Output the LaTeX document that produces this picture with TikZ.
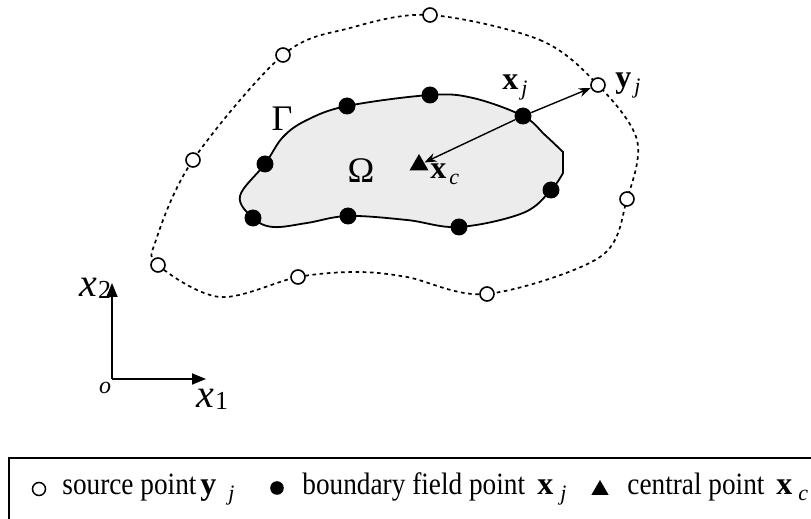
\documentclass[tikz,border=0pt]{standalone}
\usepackage{graphicx}
\usepackage{fontspec}
\setmainfont{Liberation Serif}
\usetikzlibrary{arrows.meta, shapes.geometric}

% bold vector with italic subscript
\newcommand{\vecsub}[3][1.5pt]{{\fontsize{16}{16}\selectfont\bfseries #2}\kern#1\raisebox{-3pt}{\fontsize{11}{11}\selectfont\itshape #3}}
% condensed legend text
\newcommand{\legstr}[1]{\scalebox{0.88}[1]{#1}}

\begin{document}
\begin{tikzpicture}[
    x=0.5pt, y=-0.5pt,
    >={Stealth[length=6pt, width=4.5pt]},
    source/.style={circle, draw, line width=0.8pt, fill=white, inner sep=0, minimum size=7pt},
    field/.style={circle, fill=black, inner sep=0, minimum size=8.5pt},
    central/.style={regular polygon, regular polygon sides=3, fill=black, inner sep=0, minimum size=11pt},
    contour/.style={dash pattern=on 1.8pt off 1.8pt, line width=0.85pt},
    boundary/.style={line width=0.9pt, draw=black, fill=gray!15},
    vec/.style={->, line width=0.7pt},
    axis/.style={-{Triangle[length=7pt, width=5.5pt]}, line width=0.9pt},
    legtext/.style={anchor=base west, inner sep=0, font=\fontsize{15.5}{15.5}\selectfont},
]
    \useasboundingbox (0,0) rectangle (811,519);

    % Source points (on the fictitious contour)
    \coordinate (s1) at (430,15);
    \coordinate (s2) at (598,85);
    \coordinate (s3) at (627,199);
    \coordinate (s4) at (487,294);
    \coordinate (s5) at (298,277);
    \coordinate (s6) at (158,265);
    \coordinate (s7) at (193,160);
    \coordinate (s8) at (283,55);

    % Boundary field points
    \coordinate (b1) at (265,164);
    \coordinate (b2) at (347,106);
    \coordinate (b3) at (430,95);
    \coordinate (b4) at (523,116);
    \coordinate (b5) at (551,190);
    \coordinate (b6) at (459,227);
    \coordinate (b7) at (348,216);
    \coordinate (b8) at (253,218);

    % Domain Omega with boundary Gamma
    \draw[boundary] plot[smooth, tension=0.6] coordinates {(563,173) (b5) (523,213) (b6) (407,220) (b7) (307,223) (273,227) (b8) (240,196) (b1) (283,137) (307,120) (b2) (b3) (473,98) (b4) (545,135) (563,152)} -- cycle;

    % Fictitious contour
    \draw[contour] plot[smooth cycle, tension=0.55] coordinates {(s1) (540,40) (s2) (637,140) (s3) (600,257) (s4) (407,277) (357,272) (s5) (220,297) (s6) (156,240) (s7) (s8) (350,28)};

    % Points
    \foreach \i in {1,...,8} {
        \node[source] (S\i) at (s\i) {};
        \node[field] (B\i) at (b\i) {};
    }
    \node[central] (C) at (419,165) {};

    % Vectors
    \draw[vec] (B4) -- (C);
    \draw[vec] (B4) -- (S2);

    % Labels
    \node[font=\fontsize{18}{18}\selectfont] (gamma) at (282,119) {Γ};
    \node[font=\fontsize{18}{18}\selectfont] (omega) at (361,171) {Ω};
    \node[anchor=base west, inner sep=0] (xjlab) at (502,90) {\vecsub{x}{j}};
    \node[anchor=base west, inner sep=0] (yjlab) at (615,88) {\vecsub{y}{j}};
    \node[anchor=base west, inner sep=0] (xclab) at (430,179) {\vecsub{x}{c}};

    % Coordinate frame
    \coordinate (O) at (112,379);
    \coordinate (x1end) at (206,379);
    \coordinate (x2end) at (112,283);
    \draw[axis] (O) -- (x1end);
    \draw[axis] (O) -- (x2end);
    \node[anchor=base west, inner sep=0] (x2lab) at (79,297) {\fontsize{20}{20}\selectfont\itshape x\kern0.5pt\raisebox{-1pt}{\upshape\fontsize{13}{13}\selectfont 2}};
    \node[anchor=base west, inner sep=0] (x1lab) at (196,408) {\fontsize{20}{20}\selectfont\itshape x\kern0.5pt\raisebox{-1pt}{\upshape\fontsize{13}{13}\selectfont 1}};
    \node[font=\fontsize{12}{12}\selectfont\itshape] (olab) at (105,388) {o};

    % Legend
    \draw[line width=1pt] (9,540) -- (9,458) -- (830,458);
    \node[source, minimum size=6.5pt, line width=0.75pt] (legS) at (39,489) {};
    \node[legtext] (legStext) at (62,495) {\legstr{source point}};
    \node[legtext] (legSvec) at (200,495) {\vecsub[6pt]{y}{j}};
    \node[field, minimum size=6.8pt] (legB) at (277,488) {};
    \node[legtext] (legBtext) at (302,495) {\legstr{boundary field point}};
    \node[legtext] (legBvec) at (537,495) {\vecsub[3.5pt]{x}{j}};
    \node[central, minimum size=10pt] (legC) at (600,490) {};
    \node[legtext] (legCtext) at (627,495) {\legstr{central point}};
    \node[legtext] (legCvec) at (776,495) {\vecsub[3pt]{x}{c}};

\end{tikzpicture}
\end{document}
